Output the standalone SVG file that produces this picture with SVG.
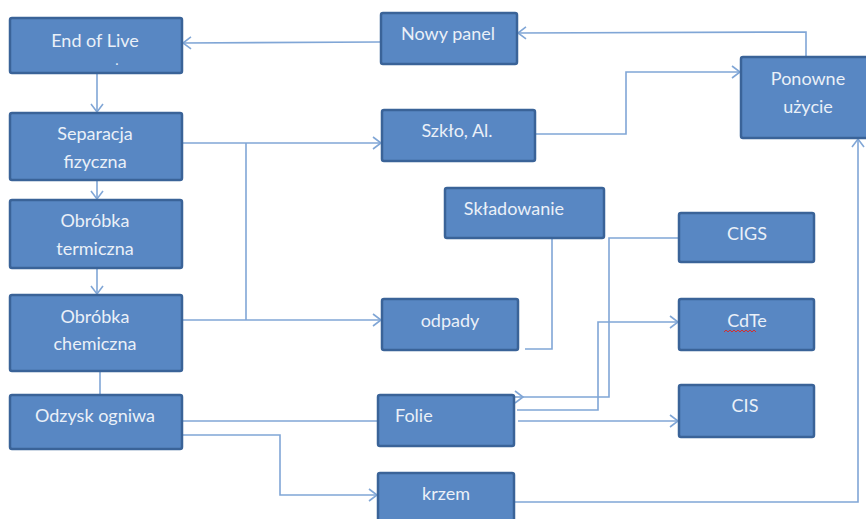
<svg xmlns="http://www.w3.org/2000/svg" width="866" height="519" viewBox="0 0 866 519">
<style>
.box{fill:#5887C3;stroke:#3A6398;stroke-width:2.5}
.t{font-family:Lato,"Open Sans",sans-serif;font-size:18px;fill:#EAF0F8;text-anchor:middle}
.c{fill:none;stroke:#80A6D6;stroke-width:1.6}
.a{marker-end:url(#arr)}
</style>
<defs>
<marker id="arr" markerUnits="userSpaceOnUse" markerWidth="14" markerHeight="14" refX="11" refY="7" orient="auto">
<path d="M3,1 L11,7 L3,13" fill="none" stroke="#80A6D6" stroke-width="1.6"/>
</marker>
</defs>
<g id="connectors">
<path class="c a" d="M380,42 L183,43"/>
<path class="c a" d="M806,56 L806,32 L518,33"/>
<path class="c a" d="M535,134 L626,134 L626,72 L740,72"/>
<path class="c a" d="M97,74 L97,112"/>
<path class="c a" d="M97,181 L97,199"/>
<path class="c a" d="M97,269 L97,294"/>
<path class="c" d="M100,371 L100,395"/>
<path class="c a" d="M183,143 L381,143"/>
<path class="c" d="M246,143 L246,320"/>
<path class="c a" d="M183,320 L381,320"/>
<path class="c" d="M525,349 L552,349 L552,239"/>
<path class="c" d="M183,421 L378,421"/>
<path class="c a" d="M183,435 L280,435 L280,495 L377,495"/>
<path class="c a" d="M512,397 L523,397"/>
<path class="c" d="M523,397 L609,397 L609,238 L679,238"/>
<path class="c a" d="M517,410 L598,410 L598,322 L678,322"/>
<path class="c a" d="M518,421 L678,421"/>
<path class="c a" d="M514,502 L858,502 L858,139"/>
</g>
<g id="endoflive"><rect class="box" x="10" y="18" width="172" height="55" rx="2"/><text class="t" x="95" y="47">End of Live</text><text class="t" x="117" y="65" style="font-size:14px">.</text></g>
<g id="separacja"><rect class="box" x="10" y="113" width="172" height="67" rx="2"/><text class="t" x="95" y="140">Separacja</text><text class="t" x="95" y="168">fizyczna</text></g>
<g id="termiczna"><rect class="box" x="10" y="200" width="172" height="68" rx="2"/><text class="t" x="95" y="227">Obróbka</text><text class="t" x="95" y="255">termiczna</text></g>
<g id="chemiczna"><rect class="box" x="10" y="295" width="172" height="76" rx="2"/><text class="t" x="95" y="323">Obróbka</text><text class="t" x="95" y="350">chemiczna</text></g>
<g id="odzysk"><rect class="box" x="10" y="395" width="172" height="54" rx="2"/><text class="t" x="95" y="422">Odzysk ogniwa</text></g>
<g id="nowypanel"><rect class="box" x="381" y="13" width="136" height="51" rx="2"/><text class="t" x="448" y="40">Nowy panel</text></g>
<g id="szklo"><rect class="box" x="382" y="110" width="153" height="51" rx="2"/><text class="t" x="457" y="137">Szkło, Al.</text></g>
<g id="ponowne"><rect class="box" x="741" y="57" width="130" height="81" rx="2"/><text class="t" x="808" y="85">Ponowne</text><text class="t" x="808" y="113">użycie</text></g>
<g id="skladowanie"><rect class="box" x="445" y="188" width="159" height="50" rx="2"/><text class="t" x="514" y="215">Składowanie</text></g>
<g id="odpady"><rect class="box" x="382" y="299" width="136" height="51" rx="2"/><text class="t" x="450" y="327">odpady</text></g>
<g id="cigs"><rect class="box" x="679" y="213" width="135" height="49" rx="2"/><text class="t" x="747" y="240">CIGS</text></g>
<g id="cdte"><rect class="box" x="679" y="299" width="135" height="51" rx="2"/><text class="t" x="747" y="327">CdTe</text><path d="M724,332 l2,-2 l2,2 l2,-2 l2,2 l2,-2 l2,2 l2,-2 l2,2 l2,-2 l2,2 l2,-2 l2,2 l2,-2 l2,2 l2,-2 l2,2" fill="none" stroke="#D23030" stroke-width="1"/></g>
<g id="cis"><rect class="box" x="679" y="385" width="135" height="52" rx="2"/><text class="t" x="745" y="412">CIS</text></g>
<g id="folie"><rect class="box" x="378" y="395" width="136" height="51" rx="2"/><text class="t" x="395" y="422" style="text-anchor:start">Folie</text></g>
<g id="krzem"><rect class="box" x="378" y="473" width="136" height="52" rx="2"/><text class="t" x="446" y="500">krzem</text></g>
</svg>
